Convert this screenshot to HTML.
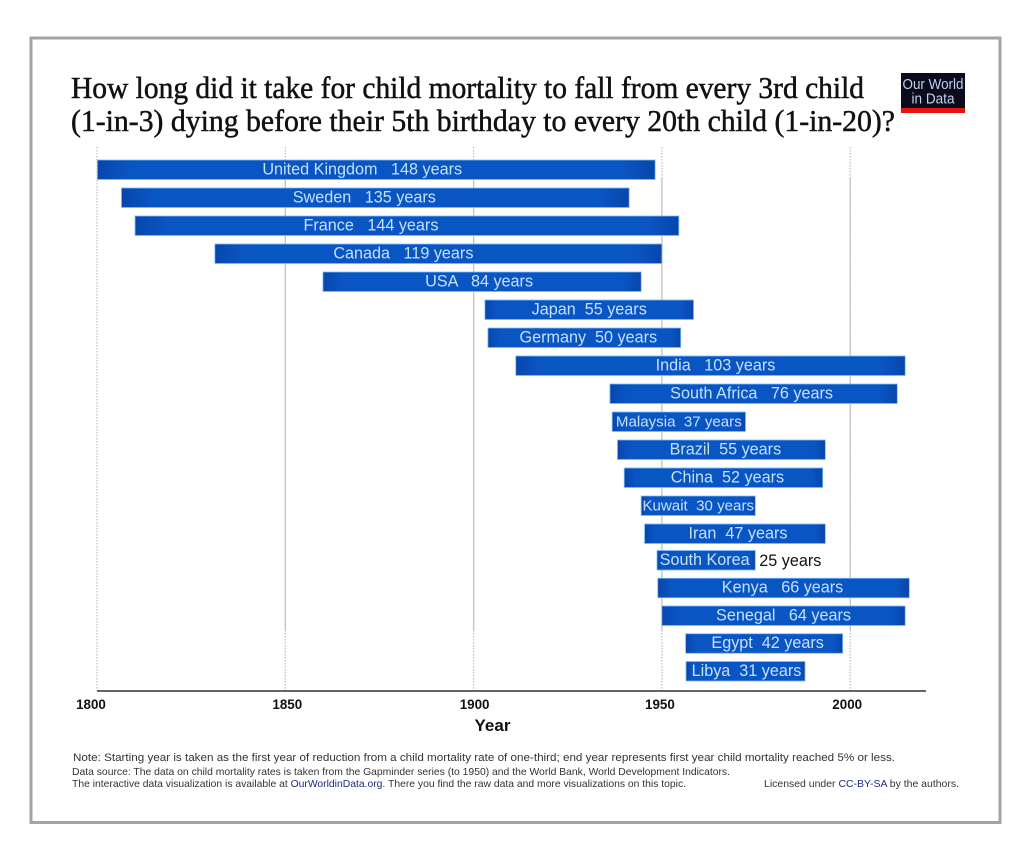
<!DOCTYPE html>
<html lang="en">
<head>
<meta charset="utf-8">
<title>How long did it take for child mortality to fall</title>
<style>
html,body{margin:0;padding:0;background:#fff;width:1024px;height:867px;overflow:hidden}
svg{display:block;font-family:"Liberation Sans",Arial,sans-serif}
text{white-space:pre}
</style>
</head>
<body>
<svg id="chart" width="1024" height="867" viewBox="0 0 1024 867" xmlns="http://www.w3.org/2000/svg">
<defs>
<linearGradient id="barFill" x1="0" x2="1" y1="0" y2="0">
<stop offset="0" stop-color="#0846ab"/>
<stop offset="0.06" stop-color="#0a55c4"/>
<stop offset="0.94" stop-color="#0a55c4"/>
<stop offset="1" stop-color="#0846ab"/>
</linearGradient>
</defs>
<rect x="0" y="0" width="1024" height="867" fill="#fff"/>
<rect x="31" y="38" width="969" height="784.5" fill="#fff" stroke="#a3a3a3" stroke-width="3"/>
<g font-family="'Liberation Serif',serif" font-size="31" fill="#111" stroke="#111" stroke-width="0.5">
<text x="71" y="98" textLength="793" lengthAdjust="spacingAndGlyphs">How long did it take for child mortality to fall from every 3rd child</text>
<text x="71" y="131" textLength="824" lengthAdjust="spacingAndGlyphs">(1-in-3) dying before their 5th birthday to every 20th child (1-in-20)?</text>
</g>
<g>
<rect x="901" y="73" width="64" height="35" fill="#0b0b1c"/>
<rect x="901" y="108" width="64" height="5" fill="#e8130f"/>
<text x="933" y="89" text-anchor="middle" font-size="15" fill="#bcd2f2" textLength="61" lengthAdjust="spacingAndGlyphs">Our World</text>
<text x="933" y="103.5" text-anchor="middle" font-size="15" fill="#bcd2f2" textLength="43" lengthAdjust="spacingAndGlyphs">in Data</text>
</g>
<g id="grid"></g>
<g id="bars"></g>
<g id="axis"></g>
<text x="492.5" y="731" text-anchor="middle" font-size="17" font-weight="bold" fill="#111">Year</text>
<g fill="#333">
<text x="73" y="761" font-size="11" textLength="822" lengthAdjust="spacingAndGlyphs">Note: Starting year is taken as the first year of reduction from a child mortality rate of one-third; end year represents first year child mortality reached 5% or less.</text>
<text x="72" y="775" font-size="10.2" textLength="658" lengthAdjust="spacingAndGlyphs">Data source: The data on child mortality rates is taken from the Gapminder series (to 1950) and the World Bank, World Development Indicators.</text>
<text x="72" y="787" font-size="10.2" textLength="614" lengthAdjust="spacingAndGlyphs">The interactive data visualization is available at <tspan fill="#1c2a85">OurWorldinData.org</tspan>. There you find the raw data and more visualizations on this topic.</text>
<text x="764" y="787" font-size="10.2" textLength="195" lengthAdjust="spacingAndGlyphs">Licensed under <tspan fill="#1c2a85">CC-BY-SA</tspan> by the authors.</text>
</g>
</svg>
<script>
const countries = ["United Kingdom","Sweden","France","Canada","USA","Japan","Germany","India","South Africa","Malaysia","Brazil","China","Kuwait","Iran","South Korea","Kenya","Senegal","Egypt","Libya"];
const startYears = [1800.1,1806.5,1810.1,1831.3,1860,1903,1903.8,1911.2,1936.2,1936.8,1938.2,1940,1944.5,1945.4,1948.7,1948.9,1950,1956.3,1956.4];
const endYears = [1948.2,1941.3,1954.5,1950,1944.5,1958.4,1955,2014.6,2012.5,1972.2,1993.4,1992.7,1974.8,1993.4,1974.8,2015.7,2014.6,1998,1988];
const durations = [148,135,144,119,84,55,50,103,76,37,55,52,30,47,25,66,64,42,31];
const tickYears = [1800,1850,1900,1950,2000];

const labelNudge = [-14,-11,-36,-35,-3,0,4,5,-2,0,4,4,0,3,-1.5,-1,0,3.5,1];
const tickNudge = [-6,2,1,-2,-3];
const wideGapCountries = ["United Kingdom","Sweden","France","Canada","USA","India","South Africa","Kenya","Senegal"];
const tightLabelCountries = ["Malaysia","Kuwait"];

const NS = "http://www.w3.org/2000/svg";
const xScale = function (year) { return 97 + (year - 1800) * 3.766; };
const rowTop = function (i) { return i < 14 ? 160 + 28 * i : 550.5 + 27.75 * (i - 14); };
const BAR_HEIGHT = 19.5;

function make(tag, attrs, parent) {
  const el = document.createElementNS(NS, tag);
  Object.keys(attrs).forEach(function (k) { el.setAttribute(k, attrs[k]); });
  parent.appendChild(el);
  return el;
}

const gridGroup = document.getElementById("grid");
tickYears.forEach(function (year, i) {
  const x = xScale(year);
  const dotted = make("line", {x1: x, x2: x, y1: 147, y2: 691, stroke: "#bdbdbd", "stroke-width": 1.2, "stroke-dasharray": "1.5 1.5"}, gridGroup);
  
  
  if (i > 0) {
    const solid = make("line", {x1: x, x2: x, y1: 178, y2: 630, stroke: "#c4c4c4", "stroke-width": 1.3}, gridGroup);
    
    
  }
});

const barsGroup = document.getElementById("bars");
countries.forEach(function (name, i) {
  const x0 = xScale(startYears[i]);
  const x1 = xScale(endYears[i]);
  const top = rowTop(i);
  const bar = make("rect", {x: x0, y: top, width: x1 - x0, height: BAR_HEIGHT, fill: "url(#barFill)", stroke: "#79bdf5", "stroke-width": 0.8}, barsGroup);
  
  

  const cx = (x0 + x1) / 2 + labelNudge[i];
  const baseY = top + 14.3;
  const size = tightLabelCountries.indexOf(name) >= 0 ? 15.1 : 16.2;
  const yearsText = durations[i] + " years";
  const label = make("text", {x: cx, y: baseY, "text-anchor": "middle", "font-size": size, fill: "#c4e0fb"}, barsGroup);
  
  
  if (name === "South Korea") {
    label.textContent = name;
    const outside = make("text", {x: x1 + 4, y: baseY + 1, "font-size": 16.2, fill: "#111"}, barsGroup);
    
    
    outside.textContent = yearsText;
  } else {
    const gap = wideGapCountries.indexOf(name) >= 0 ? "   " : "  ";
    label.textContent = name + gap + yearsText;
  }
});

const axisGroup = document.getElementById("axis");
const axisLine = make("line", {x1: 97, x2: 926, y1: 691, y2: 691, stroke: "#333", "stroke-width": 1.5}, axisGroup);


tickYears.forEach(function (year, i) {
  const tick = make("text", {x: xScale(year) + tickNudge[i], y: 709, "text-anchor": "middle", "font-size": 13.4, "font-weight": "bold", fill: "#111"}, axisGroup);
  
  
  tick.textContent = year;
});
</script>
</body>
</html>
